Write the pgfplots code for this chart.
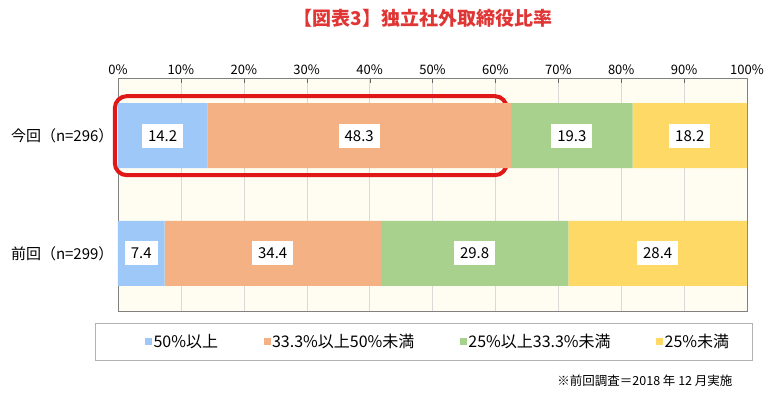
\documentclass[border=0pt]{standalone}
\usepackage{pgfplots}
\pgfplotsset{compat=1.18}
\usepackage{pgfplotstable}
\usepackage{fontspec}
\setmainfont{Noto Sans CJK JP}

\definecolor{cblue}{HTML}{9DC8F7}
\definecolor{corange}{HTML}{F4B183}
\definecolor{cgreen}{HTML}{A9D18E}
\definecolor{cyellow}{HTML}{FFD966}
\definecolor{cbg}{HTML}{FFFDF2}
\definecolor{cred}{HTML}{E01818}
\definecolor{ctitle}{HTML}{E03535}

% y: 1 = 今回, 0 = 前回
\pgfplotstableread{
y   a     b     c     d
1   14.2  48.3  19.3  18.2
0   7.4   34.4  29.8  28.4
}\ratios

\pgfplotsset{
  sq legend/.style={legend image code/.code={\fill[##1] (0pt,-3.5pt) rectangle (7pt,3.5pt);}},
}

\begin{document}
\begin{tikzpicture}
\useasboundingbox (0,0) rectangle (780pt,-400pt);
\node[text=ctitle, font=\fontsize{19}{21}\selectfont\bfseries] at (423pt,-18pt) {【図表3】独立社外取締役比率};
\draw[gray!60] (95pt,-323pt) rectangle (752pt,-360pt);
\node[anchor=east, font=\fontsize{12.5}{14}\selectfont] at (736pt,-381pt) {※前回調査＝2018 年 12 月実施};

\begin{axis}[
  at={(118pt,-78pt)}, anchor=north west,
  scale only axis, width=629pt, height=233pt,
  xbar stacked, bar width=65pt,
  xmin=0, xmax=100, ymin=-0.49, ymax=1.49,
  clip=false,
  axis background/.style={fill=cbg},
  axis line style={gray},
  xtick={0,10,...,100},
  xtick pos=upper, xticklabel pos=upper,
  xticklabel={\pgfmathprintnumber{\tick}\%},
  x tick label style={font=\fontsize{13}{15}\selectfont},
  major tick length=5pt,
  tick style={gray!80!black},
  xmajorgrids, grid style={gray!30},
  yticklabels={前回（n=299）,今回（n=296）},
  ytick={0,1},
  y tick label style={font=\fontsize{15}{17}\selectfont, xshift=-1pt},
  ytick style={draw=none},
  /pgf/number format/assume math mode=true,
  visualization depends on={rawx \as \segw},
  nodes near coords={\pgfmathprintnumber[fixed,fixed zerofill,precision=1]{\segw}},
  every node near coord/.append style={fill=white, text=black,
    inner xsep=6pt, inner ysep=6.5pt,
    font=\fontsize{15}{17}\selectfont, anchor=center},
  legend columns=4,
  legend style={at={(0.038,-0.133)}, anchor=west, draw=none, fill=none,
    font=\fontsize{16}{18}\selectfont,
    /tikz/every even column/.append style={column sep=44pt},
    nodes={inner sep=1.5pt}},
]
\addplot[fill=cblue, draw=none, sq legend] table[x=a, y=y] {\ratios};
\addplot[fill=corange, draw=none, sq legend] table[x=b, y=y] {\ratios};
\addplot[fill=cgreen, draw=none, sq legend] table[x=c, y=y] {\ratios};
\addplot[fill=cyellow, draw=none, sq legend] table[x=d, y=y] {\ratios};
\legend{50\%以上, 33.3\%以上50\%未満, 25\%以上33.3\%未満, 25\%未満}
\draw[cred, line width=4pt, rounded corners=12pt] (axis cs:-0.5,1.336) rectangle (axis cs:61.8,0.664);
\end{axis}
\end{tikzpicture}
\end{document}
